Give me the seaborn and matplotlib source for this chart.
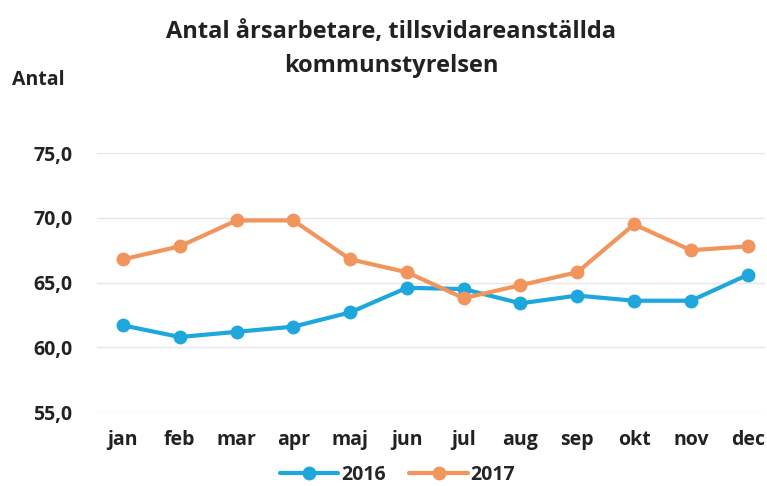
import pandas as pd
import matplotlib.pyplot as plt
import seaborn as sns

# data
manader = ['jan', 'feb', 'mar', 'apr', 'maj', 'jun', 'jul', 'aug', 'sep', 'okt', 'nov', 'dec']
ar_2016 = [61.7, 60.8, 61.2, 61.6, 62.7, 64.6, 64.5, 63.4, 64.0, 63.6, 63.6, 65.6]
ar_2017 = [66.8, 67.8, 69.8, 69.8, 66.8, 65.8, 63.8, 64.8, 65.8, 69.5, 67.5, 67.8]
yticks = [55, 60, 65, 70, 75]

df = pd.DataFrame({
    'manad': manader * 2,
    'antal': ar_2016 + ar_2017,
    'ar': ['2016'] * 12 + ['2017'] * 12,
})

sns.set_theme(style='white')
plt.rcParams['font.family'] = ['Open Sans', 'DejaVu Sans']

fig = plt.figure(figsize=(7.67, 4.86), dpi=100)
ax = fig.add_axes([0.127, 0.152, 0.87, 0.533])

sns.lineplot(data=df, x='manad', y='antal', hue='ar', sort=False,
             palette={'2016': '#1ea7dc', '2017': '#f2955c'},
             marker='o', markersize=10, linewidth=3, markeredgewidth=0, ax=ax)

ax.set_ylim(55, 75)
ax.set_yticks(yticks)
ax.set_yticklabels([f'{v:.1f}'.replace('.', ',') for v in yticks],
                   fontsize=14, fontweight='bold', color='#222222')
ax.set_xlim(-0.45, 11.3)
ax.tick_params(axis='x', labelsize=14, colors='#222222', length=0, pad=13)
ax.tick_params(axis='y', length=0, pad=18)
for lbl in ax.get_xticklabels():
    lbl.set_fontweight('bold')
ax.grid(axis='y', color='#e6e6e6', linewidth=1)
for s in ax.spines.values():
    s.set_visible(False)
ax.set_xlabel('')
ax.set_ylabel('')

# legenden ligger lite till vänster om mitten
leg = ax.legend(loc='upper center', bbox_to_anchor=(0.45, -0.135), ncol=2,
                frameon=False, fontsize=14, handlelength=3, columnspacing=1.2,
                handletextpad=0.15)
for t in leg.get_texts():
    t.set_fontweight('bold')

fig.text(0.51, 0.9, 'Antal årsarbetare, tillsvidareanställda\nkommunstyrelsen',
         ha='center', va='center', fontsize=17, fontweight='bold',
         color='#222222', linespacing=1.55)
fig.text(0.015, 0.835, 'Antal', ha='left', va='center', fontsize=14,
         fontweight='bold', color='#222222')

plt.savefig('out.png')
